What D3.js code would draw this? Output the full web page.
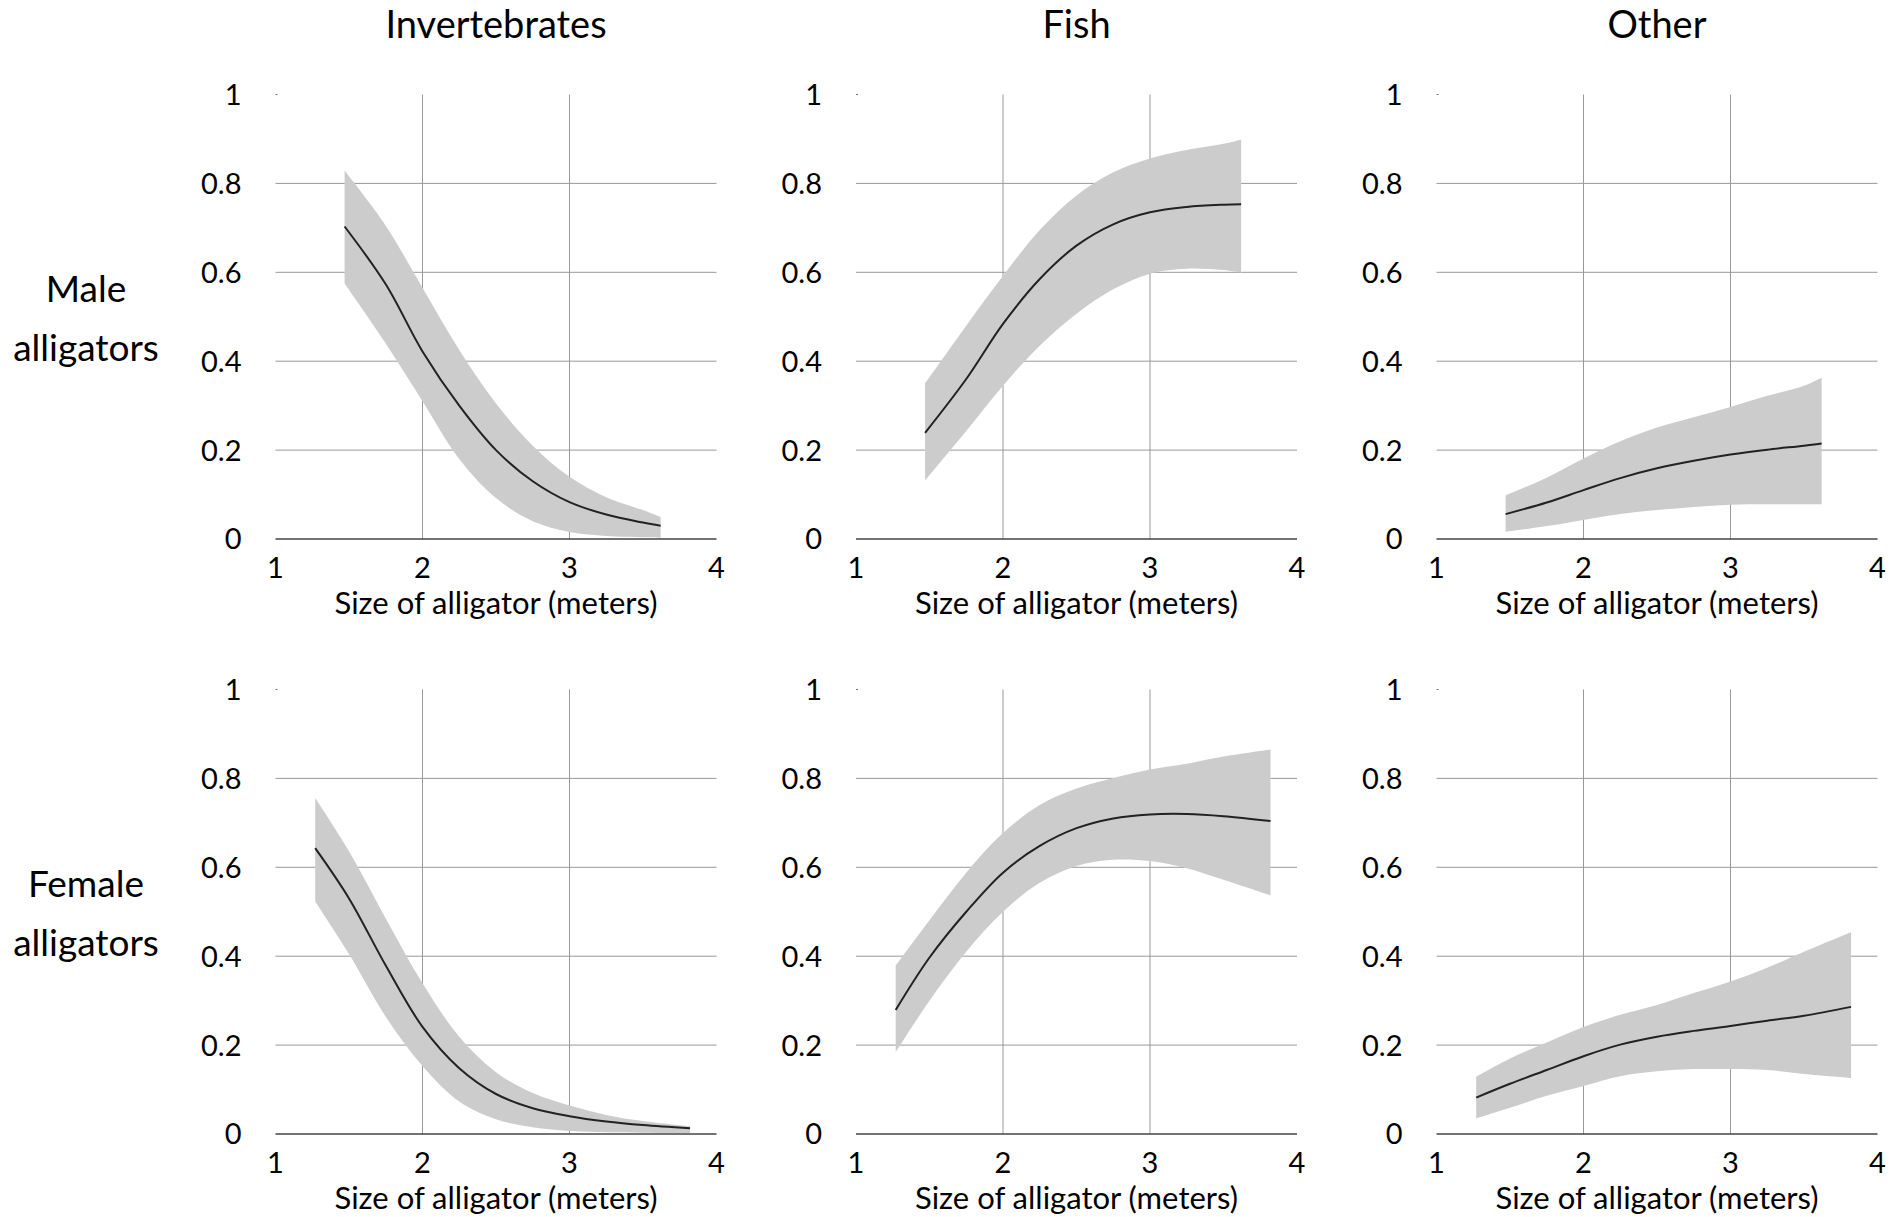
<!DOCTYPE html>
<html>
<head>
<meta charset="utf-8">
<script src="https://cdn.jsdelivr.net/npm/d3@7"></script>
<style>
  body { margin: 0; background: #fff; }
  svg text { font-family: Lato, "Noto Sans", sans-serif; fill: #000; }
</style>
</head>
<body>
<svg id="chart"></svg>
<script>
var width = 1904,
    height = 1217;

// categories
var foods = ["Invertebrates", "Fish", "Other"];
var sexes = ["Male\nalligators", "Female\nalligators"];
var xTicks = [1, 2, 3, 4];
var yTicks = [0, 0.2, 0.4, 0.6, 0.8, 1];

// sizes (meters) where the fitted curves are read
var maleSize   = [1.47, 1.75, 2, 2.25, 2.5, 2.75, 3, 3.25, 3.5, 3.62];
var femaleSize = [1.27, 1.5, 1.75, 2, 2.25, 2.5, 2.75, 3, 3.25, 3.5, 3.82];

// male: fit, lower, upper
var maleInvFit = [0.703, 0.573, 0.422, 0.30, 0.20, 0.13, 0.083, 0.055, 0.037, 0.030];
var maleInvLo  = [0.575, 0.44, 0.31, 0.18, 0.092, 0.040, 0.016, 0.007, 0.004, 0.003];
var maleInvHi  = [0.829, 0.705, 0.565, 0.425, 0.305, 0.21, 0.14, 0.094, 0.065, 0.049];

var maleFishFit = [0.239, 0.36, 0.484, 0.585, 0.660, 0.708, 0.735, 0.747, 0.752, 0.753];
var maleFishLo  = [0.132, 0.243, 0.345, 0.435, 0.507, 0.562, 0.597, 0.608, 0.605, 0.599];
var maleFishHi  = [0.35, 0.48, 0.592, 0.695, 0.773, 0.825, 0.856, 0.875, 0.889, 0.899];

var maleOthFit = [0.056, 0.082, 0.110, 0.137, 0.159, 0.176, 0.190, 0.201, 0.210, 0.215];
var maleOthLo  = [0.016, 0.029, 0.043, 0.056, 0.065, 0.072, 0.077, 0.078, 0.078, 0.078];
var maleOthHi  = [0.098, 0.138, 0.181, 0.220, 0.251, 0.274, 0.297, 0.322, 0.345, 0.363];

// female: fit, lower, upper
var femInvFit = [0.643, 0.53, 0.379, 0.241, 0.148, 0.09, 0.058, 0.040, 0.028, 0.020, 0.013];
var femInvLo  = [0.523, 0.405, 0.264, 0.153, 0.073, 0.033, 0.015, 0.007, 0.004, 0.003, 0.002];
var femInvHi  = [0.756, 0.636, 0.485, 0.339, 0.219, 0.139, 0.092, 0.064, 0.043, 0.029, 0.017];

var femFishFit = [0.279, 0.397, 0.50, 0.588, 0.648, 0.688, 0.710, 0.719, 0.720, 0.715, 0.704];
var femFishLo  = [0.184, 0.30, 0.41, 0.50, 0.565, 0.603, 0.617, 0.614, 0.598, 0.572, 0.537];
var femFishHi  = [0.379, 0.481, 0.588, 0.677, 0.740, 0.777, 0.801, 0.820, 0.833, 0.849, 0.865];

var femOthFit = [0.082, 0.113, 0.144, 0.175, 0.201, 0.219, 0.232, 0.243, 0.255, 0.266, 0.286];
var femOthLo  = [0.035, 0.059, 0.086, 0.108, 0.13, 0.141, 0.146, 0.146, 0.144, 0.135, 0.126];
var femOthHi  = [0.129, 0.17, 0.206, 0.241, 0.268, 0.29, 0.317, 0.343, 0.374, 0.41, 0.454];

var panels = [
  {row: 0, col: 0, size: maleSize, fit: maleInvFit, lo: maleInvLo, hi: maleInvHi},
  {row: 0, col: 1, size: maleSize, fit: maleFishFit, lo: maleFishLo, hi: maleFishHi},
  {row: 0, col: 2, size: maleSize, fit: maleOthFit, lo: maleOthLo, hi: maleOthHi},
  {row: 1, col: 0, size: femaleSize, fit: femInvFit, lo: femInvLo, hi: femInvHi},
  {row: 1, col: 1, size: femaleSize, fit: femFishFit, lo: femFishLo, hi: femFishHi},
  {row: 1, col: 2, size: femaleSize, fit: femOthFit, lo: femOthLo, hi: femOthHi}
];

var colLeft = [275.5, 856, 1436.5],
    rowTop = [94.5, 689.5],
    pw = 441,
    ph = 444.5;

var svg = d3.select("#chart")
    .attr("width", width)
    .attr("height", height);

var x = d3.scaleLinear().domain([1, 4]).range([0, pw]);
var y = d3.scaleLinear().domain([0, 1]).range([ph, 0]);

var line = d3.line()
    .x(function(d) { return x(d.s); })
    .y(function(d) { return y(d.f); })
    .curve(d3.curveCatmullRom);

var area = d3.area()
    .x(function(d) { return x(d.s); })
    .y0(function(d) { return y(d.lo); })
    .y1(function(d) { return y(d.hi); })
    .curve(d3.curveCatmullRom);

panels.forEach(function(p) {
  var g = svg.append("g")
      .attr("transform", "translate(" + colLeft[p.col] + "," + rowTop[p.row] + ")");

  var pts = p.size.map(function(s, i) {
    return {s: s, f: p.fit[i], lo: p.lo[i], hi: p.hi[i]};
  });

  // vertical grid
  g.selectAll(".vgrid")
      .data([2, 3])
    .enter().append("line")
      .attr("x1", d => x(d)).attr("x2", d => x(d))
      .attr("y1", y(1)).attr("y2", y(0))
      .attr("stroke", "#999")
      .attr("stroke-width", 1);

  // horizontal grid
  g.selectAll(".hgrid")
      .data([0.2, 0.4, 0.6, 0.8])
    .enter().append("line")
      .attr("x1", x(1)).attr("x2", x(4))
      .attr("y1", d => y(d)).attr("y2", d => y(d))
      .attr("stroke", "#999")
      .attr("stroke-width", 1);

  g.append("path")
      .datum(pts)
      .attr("d", area)
      .attr("fill", "#cccccc");

  g.append("path")
      .datum(pts)
      .attr("d", line)
      .attr("fill", "none")
      .attr("stroke", "#222")
      .attr("stroke-width", 2);

  // base line at 0
  g.append("line")
      .attr("x1", x(1)).attr("x2", x(4))
      .attr("y1", y(0)).attr("y2", y(0))
      .attr("stroke", "#444")
      .attr("stroke-width", 1.3);

  // tiny mark at top-left
  g.append("line")
      .attr("x1", x(1)).attr("x2", x(1) + 2)
      .attr("y1", y(1)).attr("y2", y(1))
      .attr("stroke", "#777");

  g.selectAll(".ytick")
      .data(yTicks)
    .enter().append("text")
      .attr("x", -34)
      .attr("y", d => y(d))
      .attr("dy", "0.36em")
      .attr("text-anchor", "end")
      .style("font-size", "29px")
      .text(d => d3.format("~g")(d));

  g.selectAll(".xtick")
      .data(xTicks)
    .enter().append("text")
      .attr("x", d => x(d))
      .attr("y", ph + 39)
      .attr("text-anchor", "middle")
      .style("font-size", "29px")
      .text(d => d);

  g.append("text")
      .attr("x", pw / 2)
      .attr("y", ph + 75)
      .attr("text-anchor", "middle")
      .style("font-size", "31px")
      .text("Size of alligator (meters)");
});

svg.selectAll(".coltitle")
    .data(foods)
  .enter().append("text")
    .attr("x", (d, i) => colLeft[i] + pw / 2)
    .attr("y", 38)
    .attr("text-anchor", "middle")
    .style("font-size", "38px")
    .text(d => d);

sexes.forEach(function(s, i) {
  var t = svg.append("text")
      .attr("x", 86)
      .attr("y", rowTop[i] + 207)
      .attr("text-anchor", "middle")
      .style("font-size", "37px");
  s.split("\n").forEach(function(w, j) {
    t.append("tspan")
        .attr("x", 86)
        .attr("dy", j ? 59 : 0)
        .text(w);
  });
});
</script>
</body>
</html>
